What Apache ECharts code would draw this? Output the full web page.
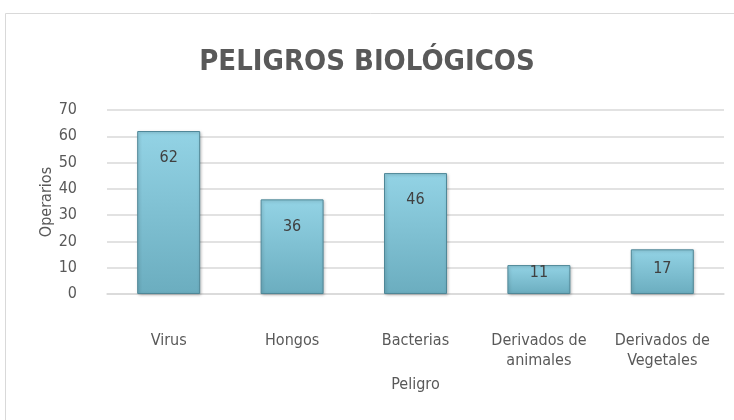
<!DOCTYPE html>
<html>
<head>
<meta charset="utf-8">
<script src="https://cdn.jsdelivr.net/npm/echarts@6/dist/echarts.min.js"></script>
<style>
  html, body { margin: 0; padding: 0; background: #fff; }
  #chart { width: 734px; height: 420px; }
</style>
</head>
<body>
<div id="chart"></div>
<script>
const categories = ['Virus', 'Hongos', 'Bacterias', 'Derivados de\nanimales', 'Derivados de\nVegetales'];
const operarios = [62, 36, 46, 11, 17];
const yTicks = { min: 0, max: 70, interval: 10 };

const font = '"Liberation Sans Narrow", "DejaVu Sans Condensed", "Open Sans", sans-serif';
const textColor = '#595959';

const chart = echarts.init(document.getElementById('chart'));

// etiquetas dentro de la barra; en barras bajas se acercan al borde superior
function labelDistance(v) {
  if (v < 15) return 0;
  if (v < 25) return 12;
  return 19;
}

const option = {
  animation: false,
  textStyle: { fontFamily: font },
  title: {
    text: 'PELIGROS BIOLÓGICOS',
    left: 'center',
    top: 43,
    textStyle: { fontFamily: font, fontSize: 29, fontWeight: 'bold', color: textColor }
  },
  graphic: [{
    type: 'rect',
    shape: { x: 5.5, y: 13.5, width: 740, height: 420 },
    style: { fill: 'none', stroke: '#d9d9d9', lineWidth: 1 },
    silent: true
  }],
  grid: { left: 107, right: 10, top: 110, bottom: 126 },
  xAxis: {
    type: 'category',
    data: categories,
    name: 'Peligro',
    nameLocation: 'middle',
    nameGap: 83,
    nameMoveOverlap: false,
    nameTextStyle: { fontFamily: font, fontSize: 16, color: textColor },
    axisLine: { show: true, lineStyle: { color: '#d9d9d9', width: 1.5 } },
    axisTick: { show: false },
    axisLabel: { fontFamily: font, fontSize: 16, color: textColor, margin: 37, lineHeight: 20, interval: 0 }
  },
  yAxis: {
    type: 'value',
    min: yTicks.min,
    max: yTicks.max,
    interval: yTicks.interval,
    name: 'Operarios',
    nameLocation: 'middle',
    nameGap: 52,
    nameMoveOverlap: false,
    nameRotate: 90,
    nameTextStyle: { fontFamily: font, fontSize: 16, color: textColor },
    axisLine: { show: false },
    axisTick: { show: false },
    axisLabel: { fontFamily: font, fontSize: 16, color: textColor, margin: 30 },
    splitLine: { lineStyle: { color: '#d9d9d9', width: 1.5 } }
  },
  series: [{
    type: 'bar',
    data: operarios.map(v => ({ value: v, label: { distance: labelDistance(v) } })),
    barWidth: 63,
    itemStyle: {
      color: new echarts.graphic.LinearGradient(0, 0, 0, 1, [
        { offset: 0, color: '#93d3e5' },
        { offset: 1, color: '#6badbf' }
      ]),
      borderColor: '#4f8797',
      borderWidth: 1,
      shadowColor: 'rgba(0,0,0,0.25)',
      shadowBlur: 3,
      shadowOffsetX: 1,
      shadowOffsetY: 1
    },
    label: {
      show: true,
      position: 'insideTop',
      fontFamily: font,
      fontSize: 16,
      color: '#404040'
    }
  }]
};

chart.setOption(option);
</script>
</body>
</html>
